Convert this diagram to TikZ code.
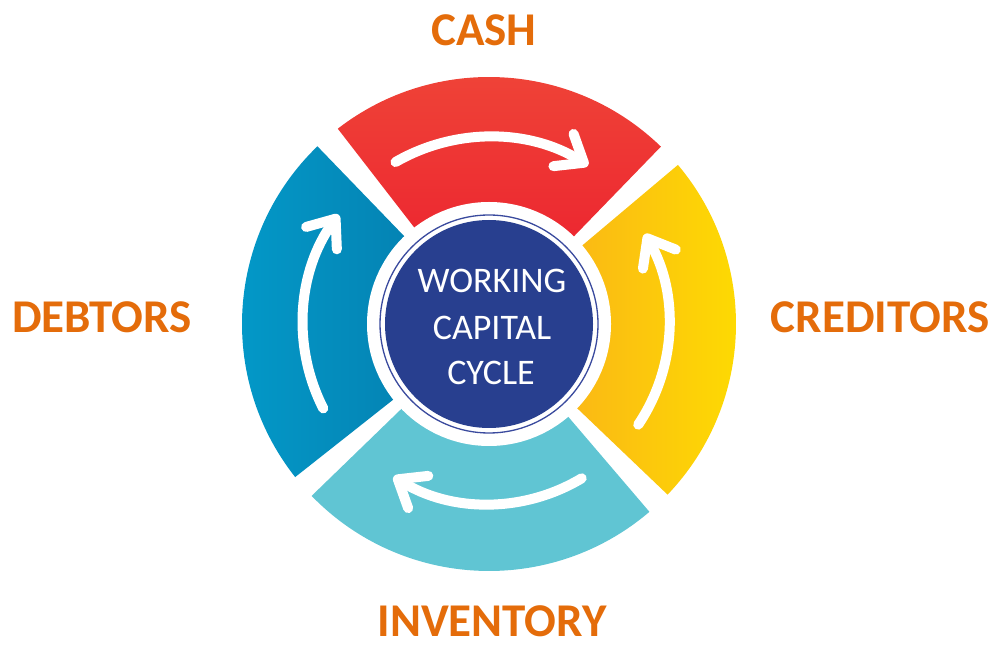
\documentclass[tikz,border=0pt]{standalone}
\usepackage{fontspec}
\setmainfont{Carlito}
\usetikzlibrary{arrows.meta,calc}
\definecolor{redtop}{HTML}{EF4638}
\definecolor{redbot}{HTML}{EC1A2D}
\definecolor{blueleft}{HTML}{039BCA}
\definecolor{blueright}{HTML}{0579AA}
\definecolor{cyanseg}{HTML}{60C5D3}
\definecolor{yelleft}{HTML}{F9A81E}
\definecolor{yelright}{HTML}{FEDE00}
\definecolor{cdark}{HTML}{283F8F}
\definecolor{cring}{HTML}{3A4A9E}
\definecolor{corange}{HTML}{E46C0A}
\begin{document}
\begin{tikzpicture}[x=1pt,y=1pt,
  lbl/.style={text=corange, font=\fontsize{47}{56}\selectfont\bfseries, inner sep=0pt, anchor=base},
  ctext/.style={text=white, font=\fontsize{36}{44}\selectfont, inner sep=0pt, anchor=base},
  cyclearrow/.style={draw=white, line width=10pt, line cap=round, line join=round,
    -{Straight Barb[length=24pt,width=38pt,round]}}]
\useasboundingbox (0,0) rectangle (995,645);
\coordinate (C) at (489,321);
% sectors
\shade[top color=redtop, bottom color=redbot]
  (C) -- ($(C)+(45.9:247)$) arc[start angle=45.9, end angle=127.75, radius=247] -- cycle;
\shade[left color=blueleft, right color=blueright]
  (C) -- ($(C)+(134:247)$) arc[start angle=134, end angle=218.3, radius=247] -- cycle;
\fill[cyanseg]
  (C) -- ($(C)+(224.1:247)$) arc[start angle=224.1, end angle=310.5, radius=247] -- cycle;
\shade[left color=yelleft, right color=yelright]
  (C) -- ($(C)+(316.3:247)$) arc[start angle=316.3, end angle=400.1, radius=247] -- cycle;
% centre
\fill[white] (C) circle[radius=122];
\fill[cdark] (C) circle[radius=104];
\draw[cring, line width=1.3pt] (C) circle[radius=109];
% arrows
\draw[cyclearrow] ($(C)+(120:187)$) arc[start angle=120, end angle=58, radius=187];
\draw[cyclearrow] ($(C)+(207:186)$) arc[start angle=207, end angle=144, radius=186];
\draw[cyclearrow] ($(C)+(326:180)$) arc[start angle=326, end angle=390, radius=180];
\draw[cyclearrow] ($(C)+(301:180)$) arc[start angle=301, end angle=238, radius=180];
% centre text
\node[ctext] (wc1) at (492,352) {WORKING};
\node[ctext] (wc2) at (492,305) {CAPITAL};
\node[ctext] (wc3) at (491,260) {CYCLE};
% labels
\node[lbl] (cash) at (484,599) {CASH};
\node[lbl] (debtors) at (102,312) {DEBTORS};
\node[lbl] (creditors) at (880,312) {CREDITORS};
\node[lbl] (inventory) at (492,9) {INVENTORY};
\end{tikzpicture}
\end{document}
